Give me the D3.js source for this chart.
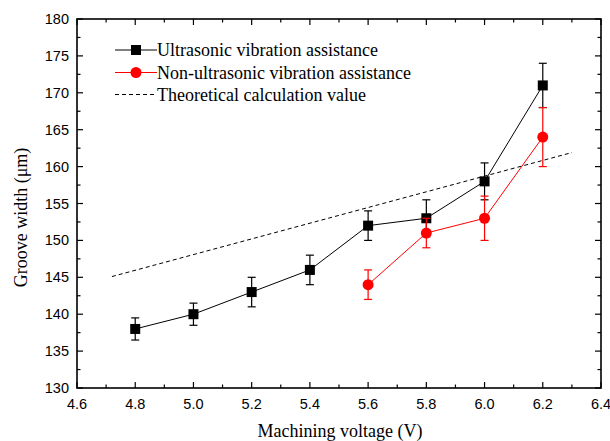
<!DOCTYPE html>
<html>
<head>
<meta charset="utf-8">
<script src="https://cdn.jsdelivr.net/npm/d3@7"></script>
<style>
  body { margin: 0; background: #fff; }
</style>
</head>
<body>
<div id="chart"></div>
<script>
// data
const voltage = [4.8, 5.0, 5.2, 5.4, 5.6, 5.8, 6.0, 6.2];
const ultraWidth = [138, 140, 143, 146, 152, 153, 158, 171];
const ultraErr = [1.5, 1.5, 2, 2, 2, 2.5, 2.5, 3];
const nonVoltage = [5.6, 5.8, 6.0, 6.2];
const nonWidth = [144, 151, 153, 164];
const nonErr = [2, 2, 3, 4];
const theoryVoltage = [4.72, 6.3];
const theoryWidth = [145.1, 161.9];
const xTicks = [4.6, 4.8, 5.0, 5.2, 5.4, 5.6, 5.8, 6.0, 6.2, 6.4];
const yTicks = [130, 135, 140, 145, 150, 155, 160, 165, 170, 175, 180];
const legendLabels = ["Ultrasonic vibration assistance", "Non-ultrasonic vibration assistance", "Theoretical calculation value"];

const width = 610, height = 441;
const margin = {left: 77, right: 9, top: 19, bottom: 53};

const svg = d3.select("#chart").append("svg")
  .attr("width", width)
  .attr("height", height);

const x = d3.scaleLinear().domain([4.6, 6.4]).range([margin.left, width - margin.right]);
const y = d3.scaleLinear().domain([130, 180]).range([height - margin.bottom, margin.top]);

const x0 = x.range()[0], x1 = x.range()[1];
const y0 = y.range()[0], y1 = y.range()[1];

// ticks (all pointing inward)
const xMinor = d3.range(4.6, 6.41, 0.1);
const yMinor = d3.range(130, 180.1, 2.5);

const tickG = svg.append("g").attr("stroke", "#000").attr("stroke-width", 1.2);
xMinor.forEach((v, i) => {
  const len = i % 2 === 0 ? 6 : 3.5;
  tickG.append("line").attr("x1", x(v)).attr("x2", x(v)).attr("y1", y0).attr("y2", y0 - len);
  tickG.append("line").attr("x1", x(v)).attr("x2", x(v)).attr("y1", y1).attr("y2", y1 + len);
});
yMinor.forEach((v, i) => {
  const len = i % 2 === 0 ? 6 : 3.5;
  tickG.append("line").attr("x1", x0).attr("x2", x0 + len).attr("y1", y(v)).attr("y2", y(v));
  tickG.append("line").attr("x1", x1).attr("x2", x1 - len).attr("y1", y(v)).attr("y2", y(v));
});

// frame
svg.append("rect")
  .attr("x", x0).attr("y", y1)
  .attr("width", x1 - x0).attr("height", y0 - y1)
  .attr("fill", "none").attr("stroke", "#000").attr("stroke-width", 1.6);

// tick labels
svg.selectAll(".xlab").data(xTicks).enter().append("text")
  .attr("x", d => x(d)).attr("y", y0 + 21)
  .attr("text-anchor", "middle")
  .attr("font-family", "Liberation Sans, Arial, sans-serif")
  .attr("font-size", "14.5px")
  .text(d => d.toFixed(1));

svg.selectAll(".ylab").data(yTicks).enter().append("text")
  .attr("x", x0 - 8).attr("y", d => y(d) + 5)
  .attr("text-anchor", "end")
  .attr("font-family", "Liberation Sans, Arial, sans-serif")
  .attr("font-size", "14.5px")
  .text(d => d);

// axis titles
svg.append("text")
  .attr("x", (x0 + x1) / 2 + 1).attr("y", 437)
  .attr("text-anchor", "middle")
  .attr("font-family", "Liberation Serif, Times New Roman, serif")
  .attr("font-size", "18px")
  .text("Machining voltage (V)");

svg.append("text")
  .attr("transform", `translate(27, ${(y0 + y1) / 2 + 14}) rotate(-90)`)
  .attr("text-anchor", "middle")
  .attr("font-family", "Liberation Serif, Times New Roman, serif")
  .attr("font-size", "18px")
  .text("Groove width (\u03bcm)");

// theoretical line
const line = d3.line().x(d => x(d[0])).y(d => y(d[1]));
svg.append("path")
  .attr("d", line(d3.zip(theoryVoltage, theoryWidth)))
  .attr("fill", "none").attr("stroke", "#000").attr("stroke-width", 1)
  .attr("stroke-dasharray", "4,3");

// series drawing helper
function drawSeries(xs, ys, errs, color, shape) {
  const g = svg.append("g");
  g.append("path")
    .attr("d", line(d3.zip(xs, ys)))
    .attr("fill", "none").attr("stroke", color).attr("stroke-width", 1);
  xs.forEach((v, i) => {
    const cx = x(v);
    const top = y(ys[i] + errs[i]), bot = y(ys[i] - errs[i]);
    g.append("line").attr("x1", cx).attr("x2", cx).attr("y1", top).attr("y2", bot)
      .attr("stroke", color).attr("stroke-width", 1.2);
    [top, bot].forEach(yy => {
      g.append("line").attr("x1", cx - 4).attr("x2", cx + 4).attr("y1", yy).attr("y2", yy)
        .attr("stroke", color).attr("stroke-width", 1.2);
    });
  });
  xs.forEach((v, i) => {
    if (shape === "square") {
      g.append("rect").attr("x", x(v) - 5).attr("y", y(ys[i]) - 5)
        .attr("width", 10).attr("height", 10).attr("fill", color);
    } else {
      g.append("circle").attr("cx", x(v)).attr("cy", y(ys[i])).attr("r", 5.5).attr("fill", color);
    }
  });
}

drawSeries(voltage, ultraWidth, ultraErr, "#000", "square");
drawSeries(nonVoltage, nonWidth, nonErr, "#ff0000", "circle");

// legend
const legendY = [50, 72.5, 94.5];
const lg = svg.append("g");
legendLabels.forEach((label, i) => {
  const ly = legendY[i];
  const color = i === 1 ? "#ff0000" : "#000";
  const ln = lg.append("line").attr("x1", 115).attr("x2", 157).attr("y1", ly).attr("y2", ly)
    .attr("stroke", color).attr("stroke-width", 1);
  if (i === 2) ln.attr("stroke-dasharray", "4,3");
  if (i === 0) lg.append("rect").attr("x", 131).attr("y", ly - 5).attr("width", 10).attr("height", 10).attr("fill", "#000");
  if (i === 1) lg.append("circle").attr("cx", 136).attr("cy", ly).attr("r", 5.5).attr("fill", "#ff0000");
  lg.append("text")
    .attr("x", 157).attr("y", ly + 6)
    .attr("font-family", "Liberation Serif, Times New Roman, serif")
    .attr("font-size", "18px")
    .text(label);
});
</script>
</body>
</html>
